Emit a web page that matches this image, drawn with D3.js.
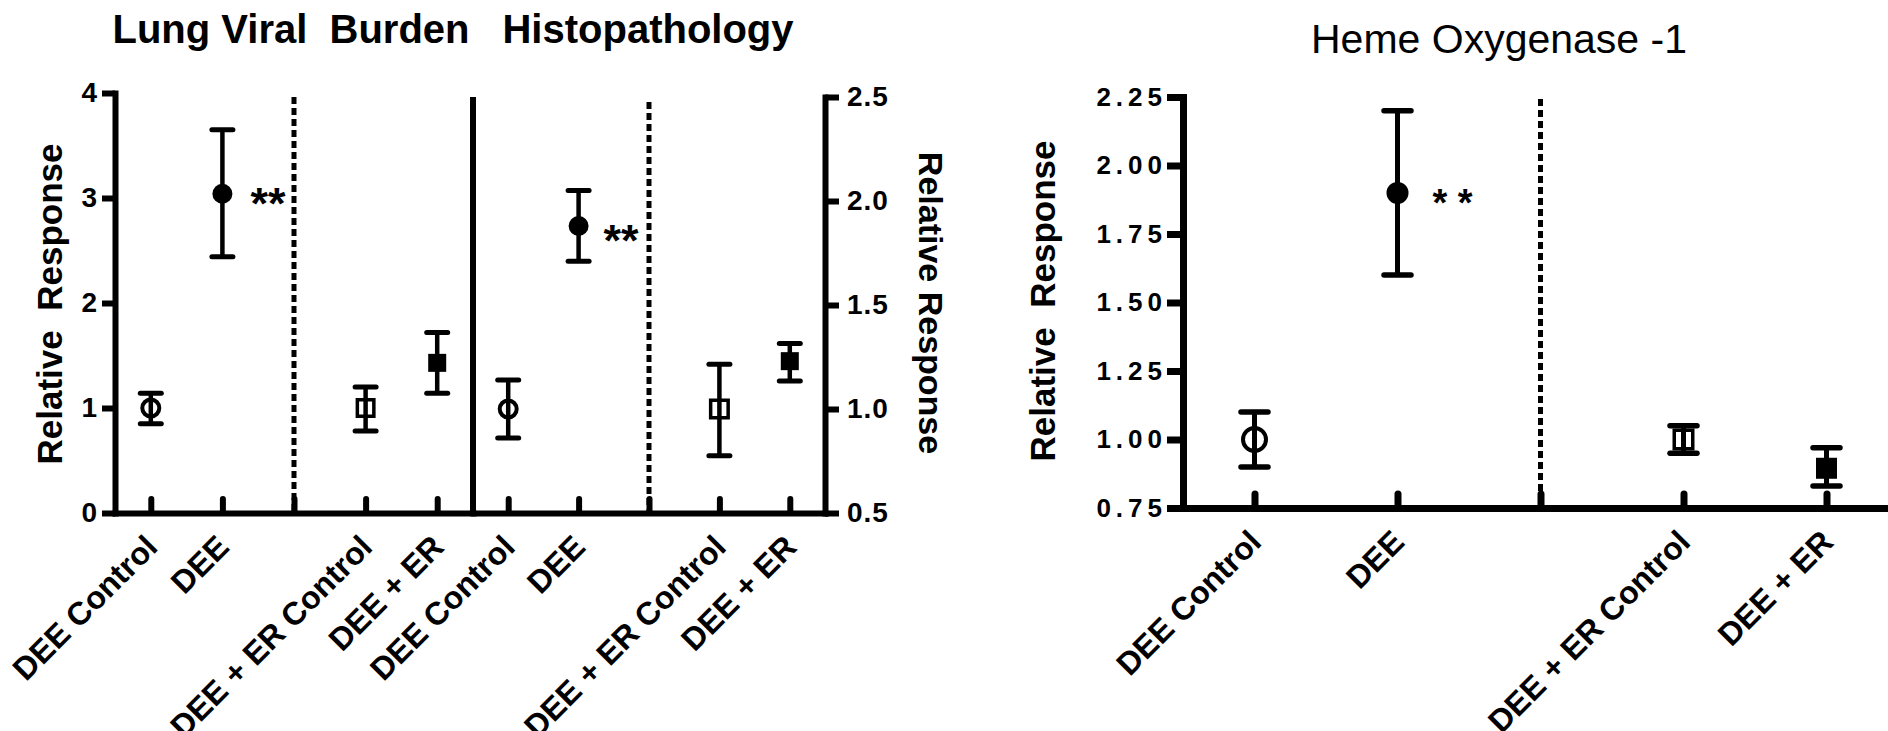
<!DOCTYPE html>
<html>
<head>
<meta charset="utf-8">
<script src="https://cdn.jsdelivr.net/npm/d3@7"></script>
<style>
body { margin: 0; background: #fff; }
text { font-family: "Liberation Sans", Arial, sans-serif; fill: #000; }
</style>
</head>
<body>
<svg id="chart" width="1888" height="731"></svg>
<script>
// groups, with a blank slot where the dotted divider sits
var categories = ["DEE Control", "DEE", "DEE + ER Control", "DEE + ER"];
var slots = ["DEE Control", "DEE", "", "DEE + ER Control", "DEE + ER"];

// Lung viral burden
var viralMean = [1.00, 3.04, 1.00, 1.43];
var viralLow  = [0.85, 2.44, 0.78, 1.14];
var viralHigh = [1.14, 3.65, 1.20, 1.72];
var viralTicks = [0, 1, 2, 3, 4];

// Histopathology
var histoMean = [1.00, 1.88, 1.00, 1.23];
var histoLow  = [0.86, 1.71, 0.775, 1.135];
var histoHigh = [1.14, 2.05, 1.215, 1.315];
var histoTicks = [0.5, 1.0, 1.5, 2.0, 2.5];

// Heme oxygenase-1
var hemeMean = [1.00, 1.90, 1.00, 0.895];
var hemeLow  = [0.90, 1.60, 0.95, 0.83];
var hemeHigh = [1.10, 2.20, 1.05, 0.97];
var hemeTicks = [0.75, 1.00, 1.25, 1.50, 1.75, 2.00, 2.25];

var starred = "DEE";

var svg = d3.select("#chart");
svg.append("rect").attr("width", 1888).attr("height", 731).attr("fill", "#fff");

function drawPanel(p) {
	var x = d3.scalePoint().domain(slots).range(p.xRange).padding(0.5);
	var y = p.y;
	var base = y.range()[0];
	var g = svg.append("g");

	// dotted divider
	g.append("line")
		.attr("x1", x("")).attr("x2", x(""))
		.attr("y1", y(p.ticks[p.ticks.length - 1]) + p.dotGap).attr("y2", base)
		.style("stroke", "#000")
		.style("stroke-width", 5)
		.style("stroke-dasharray", "7,4");

	// x axis, ticks pointing up
	var xa = g.append("g")
		.attr("transform", "translate(0," + base + ")")
		.call(d3.axisBottom(x).tickSize(-14).tickSizeOuter(0));
	xa.select(".domain").style("stroke-width", p.lw).style("stroke-linecap", "square");
	xa.selectAll(".tick line").style("stroke-width", p.lw).style("stroke-linecap", "round");
	xa.selectAll(".tick text")
		.attr("y", 0).attr("dy", 0)
		.attr("transform", "translate(8,36) rotate(-45)")
		.style("text-anchor", "end")
		.style("font-size", "32px")
		.style("font-weight", "bold");

	// y axis
	var axis = (p.side == "right" ? d3.axisRight(y) : d3.axisLeft(y))
		.tickValues(p.ticks)
		.tickFormat(d3.format(p.fmt))
		.tickSize(p.tickLen)
		.tickPadding(p.pad)
		.tickSizeOuter(0);
	var ya = g.append("g")
		.attr("transform", "translate(" + p.axisX + ",0)")
		.call(axis);
	ya.select(".domain").style("stroke-width", p.lw).style("stroke-linecap", "square");
	ya.selectAll(".tick line").style("stroke-width", p.lw);
	ya.selectAll(".tick text")
		.style("font-size", p.tickFont + "px")
		.style("font-weight", "bold")
		.style("letter-spacing", p.spacing + "px")
		.attr("dx", p.side == "right" ? 0 : p.spacing);

	// error bars
	var rows = categories.map(function(c, i) {
		return { name: c, i: i, mean: p.mean[i], low: p.low[i], high: p.high[i] };
	});
	var bars = g.selectAll("g.bar").data(rows).enter().append("g").attr("class", "bar");
	bars.append("line")
		.attr("x1", function(d) { return x(d.name); })
		.attr("x2", function(d) { return x(d.name); })
		.attr("y1", function(d) { return y(d.low); })
		.attr("y2", function(d) { return y(d.high); })
		.style("stroke", "#000").style("stroke-width", p.ew);
	[ "low", "high" ].forEach(function(k) {
		bars.append("line")
			.attr("x1", function(d) { return x(d.name) - p.cap / 2; })
			.attr("x2", function(d) { return x(d.name) + p.cap / 2; })
			.attr("y1", function(d) { return y(d[k]); })
			.attr("y2", function(d) { return y(d[k]); })
			.style("stroke", "#000").style("stroke-width", p.ew + 0.5)
			.style("stroke-linecap", "round");
	});

	// markers: circles for DEE groups, squares for DEE + ER, open for controls
	bars.each(function(d) {
		var m = d3.select(this);
		var open = d.i % 2 == 0;
		if (d.i < 2) {
			m.append("circle")
				.attr("cx", x(d.name)).attr("cy", y(d.mean))
				.attr("r", open ? p.rOpen : p.rFill)
				.style("fill", open ? "none" : "#000")
				.style("stroke", "#000").style("stroke-width", open ? 4 : 0);
		} else {
			var s = open ? p.sqOpen - 3.5 : p.sq;
			m.append("rect")
				.attr("x", x(d.name) - s / 2).attr("y", y(d.mean) - s / 2)
				.attr("width", s).attr("height", s)
				.style("fill", open ? "none" : "#000")
				.style("stroke", "#000").style("stroke-width", open ? 3.5 : 0);
		}
	});

	// significance stars
	var si = categories.indexOf(starred);
	g.append("text")
		.attr("x", x(starred) + p.starDx)
		.attr("y", y(p.mean[si]) + p.starDy)
		.attr("dy", "0.575em")
		.style("font-size", p.starSize + "px")
		.style("font-weight", "bold")
		.style("white-space", "pre")
		.text(p.stars);

	return x;
}

// Lung viral burden
drawPanel({
	xRange: [115, 473], y: d3.scaleLinear().domain([0, 4]).range([513, 93]),
	ticks: viralTicks, fmt: "d", side: "left", axisX: 115, tickLen: 13, pad: 5, spacing: 1, tickFont: 28,
	lw: 6, dotGap: 4, mean: viralMean, low: viralLow, high: viralHigh,
	ew: 4.5, cap: 21, rOpen: 8.5, rFill: 10, sqOpen: 20, sq: 18,
	stars: "**", starSize: 45, starDx: 28, starDy: -1
});

// Histopathology
drawPanel({
	xRange: [473, 825], y: d3.scaleLinear().domain([0.5, 2.5]).range([513, 97]),
	ticks: histoTicks, fmt: ".1f", side: "right", axisX: 825, tickLen: 14, pad: 8, spacing: 1, tickFont: 28,
	lw: 6, dotGap: 5, mean: histoMean, low: histoLow, high: histoHigh,
	ew: 4.5, cap: 21, rOpen: 8.5, rFill: 10, sqOpen: 21, sq: 18,
	stars: "**", starSize: 45, starDx: 25, starDy: 4
});
// solid separator between the two left panels
svg.append("line")
	.attr("x1", 473).attr("x2", 473).attr("y1", 97).attr("y2", 513)
	.style("stroke", "#000").style("stroke-width", 6);

// Heme oxygenase-1
drawPanel({
	xRange: [1183, 1898], y: d3.scaleLinear().domain([0.75, 2.25]).range([508, 97]),
	ticks: hemeTicks, fmt: ".2f", side: "left", axisX: 1183, tickLen: 16, pad: 5, spacing: 5, tickFont: 26,
	lw: 7, dotGap: 2, mean: hemeMean, low: hemeLow, high: hemeHigh,
	ew: 5, cap: 27, rOpen: 11.5, rFill: 11, sqOpen: 22, sq: 21,
	stars: "* *", starSize: 38, starDx: 35, starDy: 1
});

// titles
function label(txt, x, y, size, weight, rot) {
	svg.append("text")
		.attr("transform", "translate(" + x + "," + y + ")" + (rot ? " rotate(" + rot + ")" : ""))
		.style("text-anchor", "middle")
		.style("font-size", size + "px")
		.style("font-weight", weight)
		.style("white-space", "pre")
		.text(txt);
}
label("Lung Viral  Burden", 291, 43, 40, "bold");
label("Histopathology", 648, 43, 40, "bold");
label("Heme Oxygenase -1", 1499, 53, 41, "normal");
label("Relative  Response", 62, 304, 35, "bold", -90);
label("Relative Response", 919, 303, 34, "bold", 90);
label("Relative  Response", 1055, 301, 35, "bold", -90);
</script>
</body>
</html>
